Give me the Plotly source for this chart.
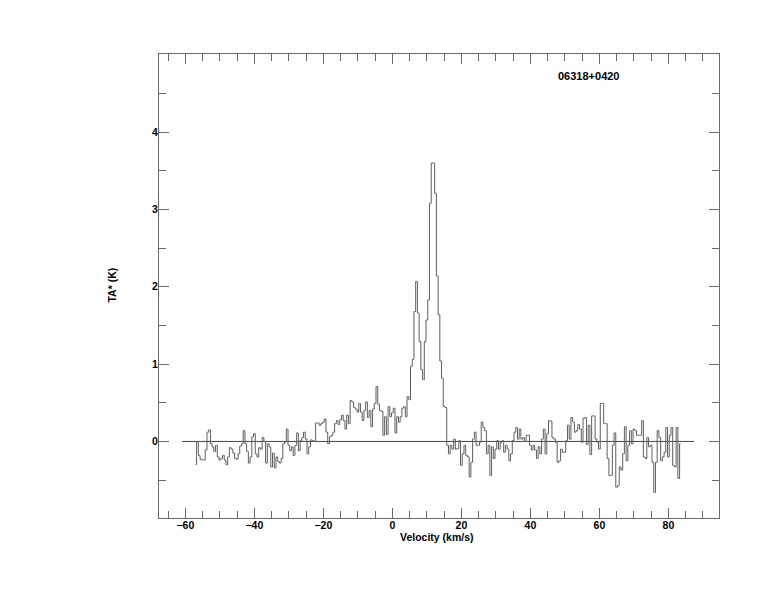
import numpy as np
import plotly.graph_objects as go

# ---- data (antenna temperature TA* in K per 0.5 km/s channel) ----
V_START = -57.0
V_STEP = 0.5

ta_seg_a = [  # -57.0 .. -31.5
    -0.30, 0.00, -0.18, -0.23, -0.24, -0.24, -0.11, 0.12, 0.15, -0.03,
    -0.07, -0.13, -0.05, -0.20, -0.24, -0.22, -0.18, -0.24, -0.30, -0.20,
    -0.08, -0.10, -0.15, -0.22, -0.23, -0.16, -0.06, -0.03, 0.14, -0.03,
    -0.13, -0.28, -0.20, 0.06, 0.10, -0.16, -0.20, -0.08, -0.10, 0.05,
    0.00, -0.28, -0.03, -0.07, -0.33, -0.15, -0.34, -0.20, -0.26, -0.28,
    -0.22, -0.03,
]
ta_seg_b = [  # -31.0 .. -2.5
    -0.01, 0.16, -0.05, -0.12, -0.07, -0.18, -0.05, 0.11, -0.12, 0.01,
    0.05, 0.12, 0.03, -0.16, -0.07, 0.02, 0.01, 0.00, 0.24, 0.24,
    0.21, 0.23, 0.25, 0.29, 0.12, -0.03, 0.06, 0.08, 0.12, 0.23,
    0.27, 0.22, 0.28, 0.34, 0.27, 0.16, 0.34, 0.23, 0.53, 0.51,
    0.44, 0.42, 0.38, 0.49, 0.38, 0.27, 0.40, 0.51, 0.31, 0.40,
    0.19, 0.42, 0.49, 0.71, 0.48, 0.40, 0.39, 0.08,
]
ta_seg_c = [  # -2.0 .. 15.5
    0.32, 0.09, 0.45, 0.32, 0.37, 0.43, 0.11, 0.32, 0.25, 0.32,
    0.43, 0.45, 0.32, 0.58, 0.54, 0.97, 1.06, 1.68, 2.07, 1.66,
    1.29, 0.93, 0.80, 1.29, 1.57, 1.83, 3.08, 3.60, 3.60, 3.21,
    2.14, 1.64, 1.04, 0.82, 0.45, 0.44,
]
ta_seg_d = [  # 16.0 .. 49.5
    -0.05, -0.16, -0.05, -0.10, 0.03, -0.10, -0.09, 0.01, -0.31, -0.16,
    -0.05, -0.18, -0.20, -0.46, -0.27, 0.03, 0.12, -0.05, -0.05, -0.01,
    0.25, 0.18, 0.14, -0.16, -0.05, -0.44, -0.07, -0.22, -0.10, 0.01,
    -0.10, -0.01, 0.01, -0.14, -0.05, -0.10, -0.25, -0.16, 0.01, 0.12,
    0.18, 0.03, 0.16, 0.03, 0.05, 0.00, 0.08, 0.08, -0.05, -0.11,
    -0.05, -0.11, -0.22, -0.07, -0.16, 0.03, 0.16, -0.16, 0.10, 0.27,
    0.26, 0.05, 0.03, -0.01, -0.27, -0.25, -0.10, -0.14,
]
ta_seg_e = [  # 50.0 .. 83.5
    -0.14, 0.01, 0.21, 0.03, 0.31, 0.25, 0.12, 0.14, 0.22, 0.16,
    -0.01, 0.30, 0.31, -0.04, 0.21, -0.17, 0.33, 0.33, 0.03, -0.01,
    -0.10, 0.49, 0.49, 0.23, 0.23, -0.22, -0.44, -0.44, -0.05, 0.11,
    -0.59, -0.57, -0.33, -0.37, -0.16, 0.19, -0.25, -0.05, 0.14, -0.03,
    0.16, 0.14, 0.08, 0.08, 0.08, 0.27, -0.20, -0.22, 0.05, -0.07,
    -0.05, -0.27, -0.66, -0.27, 0.14, 0.05, -0.25, -0.20, -0.14, 0.18,
    -0.20, 0.08, 0.18, -0.31, -0.33, 0.18, -0.48, -0.03,
]

ta = ta_seg_a + ta_seg_b + ta_seg_c + ta_seg_d + ta_seg_e
velocity = V_START + V_STEP * np.arange(len(ta))

baseline_v = [-61.0, 87.5]
baseline_t = [0.0, 0.0]

x_range = [-67.65, 94.67]
y_range = [-0.99, 5.01]
y_tickvals = [0, 1, 2, 3, 4]

source_name = "06318+0420"
x_title = "Velocity (km/s)"
y_title = "TA* (K)"

FONT = "Liberation Sans"
AXIS_COLOR = "#6a6a6a"

fig = go.Figure()
fig.add_trace(go.Scatter(x=baseline_v, y=baseline_t, mode="lines",
                         line=dict(color="#444444", width=1),
                         showlegend=False, hoverinfo="skip"))
fig.add_trace(go.Scatter(x=velocity, y=ta, mode="lines",
                         line=dict(color="#5e5e5e", width=1, shape="hvh"),
                         showlegend=False))

axis_common = dict(
    showline=True, linecolor=AXIS_COLOR, linewidth=1, mirror="ticks",
    ticks="inside", tickcolor=AXIS_COLOR, tickwidth=1, ticklen=10,
    showgrid=False, zeroline=False,
    tickfont=dict(family=FONT, size=10.5, color="black", weight="bold"),
)

fig.update_xaxes(range=x_range, tick0=0, dtick=20, ticklabelstandoff=-3,
                 minor=dict(ticks="inside", ticklen=7, tick0=0, dtick=5,
                            tickcolor=AXIS_COLOR, showgrid=False),
                 **axis_common)
fig.update_yaxes(range=y_range, tickvals=y_tickvals, ticklabelstandoff=-2,
                 minor=dict(ticks="inside", ticklen=7, tick0=0, dtick=0.5,
                            tickcolor=AXIS_COLOR, showgrid=False),
                 **axis_common)

fig.add_annotation(text=source_name, xref="paper", yref="paper",
                   x=0.767, y=0.953, xanchor="center", yanchor="middle",
                   showarrow=False,
                   font=dict(family=FONT, size=11, color="black", weight="bold"))
fig.add_annotation(text=x_title, xref="paper", yref="paper",
                   x=0.497, y=-0.040, xanchor="center", yanchor="middle",
                   showarrow=False,
                   font=dict(family=FONT, size=10.5, color="black", weight="bold"))
fig.add_annotation(text=y_title, xref="paper", yref="paper",
                   x=-0.083, y=0.502, xanchor="center", yanchor="middle",
                   showarrow=False, textangle=-90,
                   font=dict(family=FONT, size=10.5, color="black", weight="bold"))

fig.update_layout(
    width=766, height=604,
    margin=dict(l=151, r=55, t=46, b=94),
    paper_bgcolor="white", plot_bgcolor="white",
    showlegend=False,
)

fig.write_html("out.html")
